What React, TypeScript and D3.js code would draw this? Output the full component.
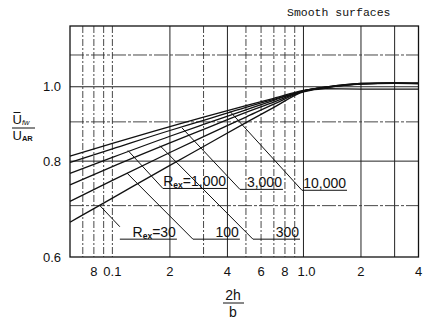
import React from "react";
import * as d3 from "d3";

// ---- data ----
const X_POINTS = [0.06, 0.1, 0.2, 0.3, 0.5, 0.7, 1.0, 1.3, 2, 3, 4];
const RE_30 = [0.666, 0.716, 0.79, 0.836, 0.898, 0.94, 0.985, 0.994, 0.993, 0.993, 0.993];
const RE_100 = [0.709, 0.755, 0.821, 0.861, 0.913, 0.949, 0.986, 0.997, 1.008, 1.01, 1.009];
const RE_300 = [0.745, 0.787, 0.845, 0.88, 0.926, 0.955, 0.987, 0.998, 1.009, 1.011, 1.01];
const RE_1000 = [0.771, 0.809, 0.862, 0.893, 0.933, 0.96, 0.988, 0.998, 1.009, 1.011, 1.01];
const RE_3000 = [0.797, 0.83, 0.877, 0.904, 0.94, 0.963, 0.988, 0.999, 1.01, 1.012, 1.011];
const RE_10000 = [0.812, 0.844, 0.887, 0.913, 0.945, 0.966, 0.989, 0.999, 1.01, 1.012, 1.011];
const SERIES = [RE_30, RE_100, RE_300, RE_1000, RE_3000, RE_10000];

// labels: tip on curve -> corner -> underline end (data coords)
const LABEL_TEXT = ["=30", "100", "300", "=1,000", "3,000", "10,000"];
const LABEL_HAS_R = [true, false, false, true, false, false];
const TIP_X = [0.086, 0.1191, 0.1773, 0.1206, 0.2312, 0.412];
const TIP_Y = [0.7, 0.772, 0.838, 0.826, 0.884, 0.929];
const CORNER_X = [0.1094, 0.2639, 0.544, 0.1838, 0.465, 0.982];
const CORNER_Y = [0.657, 0.633, 0.633, 0.737, 0.735, 0.733];
const LINE_START_X = [0.1094, 0.2639, 0.544, 0.1838, 0.465, 0.982];
const LINE_END_X = [0.2176, 0.465, 0.959, 0.398, 0.781, 1.69];
const LINE_Y = [0.633, 0.633, 0.633, 0.737, 0.735, 0.733];

const X_GRID_SOLID = [0.2, 0.4, 1, 2, 3];
const X_GRID_DASH = [0.07, 0.08, 0.09, 0.1, 0.3, 0.5, 0.6, 0.7, 0.8, 0.9];
const Y_GRID_SOLID = [0.8, 1.0];
const Y_GRID_DASH = [0.7, 0.9, 1.1];
const X_TICKS = [0.08, 0.1, 0.2, 0.4, 0.6, 0.8, 1.0, 2, 4];
const X_TICK_LABELS = ["8", "0.1", "2", "4", "6", "8", "1.0", "2", "4"];
const Y_TICKS = [0.6, 0.8, 1.0];
const Y_TICK_LABELS = ["0.6", "0.8", "1.0"];

const W = 424;
const H = 322;
const FONT = "'Liberation Sans', Arial, sans-serif";

export default function App() {
  const x = d3.scaleLog().domain([0.06, 4]).range([70, 418.5]);
  const y = d3.scaleLog().domain([0.6, 1.2]).range([257, 26]);
  const line = d3
    .line<number>()
    .x((_, i) => x(X_POINTS[i]))
    .y((d) => y(d))
    .curve(d3.curveMonotoneX);
  const [x0, x1] = x.range();
  const [yb, yt] = y.range();

  return (
    <svg
      width={W}
      height={H}
      style={{ position: "absolute", left: 0, top: 0, background: "#fff" }}
      fontFamily={FONT}
    >
      <rect width={W} height={H} fill="#fff" />
      {/* grid */}
      {X_GRID_DASH.map((v) => (
        <line key={"xd" + v} x1={x(v)} x2={x(v)} y1={yt} y2={yb} stroke="#333" strokeWidth={0.9} strokeDasharray="7,2,2,2" />
      ))}
      {X_GRID_SOLID.map((v) => (
        <line key={"xs" + v} x1={x(v)} x2={x(v)} y1={yt} y2={yb} stroke="#222" strokeWidth={1} />
      ))}
      {Y_GRID_DASH.map((v) => (
        <line key={"yd" + v} x1={x0} x2={x1} y1={y(v)} y2={y(v)} stroke="#333" strokeWidth={0.9} strokeDasharray="14,2,3,2" />
      ))}
      {Y_GRID_SOLID.map((v) => (
        <line key={"ys" + v} x1={x0} x2={x1} y1={y(v)} y2={y(v)} stroke="#222" strokeWidth={1} />
      ))}
      <rect x={x0} y={yt} width={x1 - x0} height={yb - yt} fill="none" stroke="#111" strokeWidth={1.3} />

      {/* curves */}
      {SERIES.map((s, i) => (
        <path key={"c" + i} d={line(s) || ""} fill="none" stroke="#111" strokeWidth={1.3} />
      ))}

      {/* leaders and labels */}
      {LABEL_TEXT.map((t, i) => {
        const ly = y(LINE_Y[i]);
        const ex = x(LINE_END_X[i]);
        return (
          <g key={"l" + i}>
            <line x1={x(TIP_X[i])} y1={y(TIP_Y[i])} x2={x(CORNER_X[i])} y2={y(CORNER_Y[i])} stroke="#111" strokeWidth={1} />
            <line x1={x(LINE_START_X[i])} y1={ly} x2={ex} y2={ly} stroke="#111" strokeWidth={1} />
            <text x={ex - 1} y={ly - 2.5} fontSize={14} textAnchor="end" fill="#111">
              {LABEL_HAS_R[i] ? (
                <>
                  <tspan>R</tspan>
                  <tspan fontSize={8.5} fontWeight="bold" dy={2}>ex</tspan>
                  <tspan dy={-2}>{t}</tspan>
                </>
              ) : (
                t
              )}
            </text>
          </g>
        );
      })}

      {/* tick labels */}
      {X_TICKS.map((v, i) => (
        <text key={"xt" + i} x={x(v) + (v === 1 ? 3 : 0)} y={276} fontSize={13} textAnchor="middle" fill="#111">
          {X_TICK_LABELS[i]}
        </text>
      ))}
      {Y_TICKS.map((v, i) => (
        <text key={"yt" + i} x={61} y={y(v) + 4.5} fontSize={13} textAnchor="end" fill="#111">
          {Y_TICK_LABELS[i]}
        </text>
      ))}

      {/* y title */}
      <line x1={13.5} x2={20.5} y1={112.5} y2={112.5} stroke="#111" strokeWidth={1} />
      <text x={12.5} y={124} fontSize={13} fill="#111">
        U<tspan fontSize={7.5} fontStyle="italic" dy={1}>fw</tspan>
      </text>
      <line x1={12} x2={35} y1={128} y2={128} stroke="#111" strokeWidth={1} />
      <text x={12.5} y={140} fontSize={13} fill="#111">
        U<tspan fontSize={7.5} fontWeight="bold" dy={1}>AR</tspan>
      </text>

      {/* x title */}
      <text x={233} y={300} fontSize={14} textAnchor="middle" fill="#111">2h</text>
      <line x1={223} x2={244} y1={303} y2={303} stroke="#111" strokeWidth={1} />
      <text x={233} y={317} fontSize={14} textAnchor="middle" fill="#111">b</text>

      {/* note */}
      <text x={287} y={16} fontSize={11.5} fontFamily="'Liberation Mono', 'DejaVu Sans Mono', monospace" fill="#111">
        Smooth surfaces
      </text>
    </svg>
  );
}
